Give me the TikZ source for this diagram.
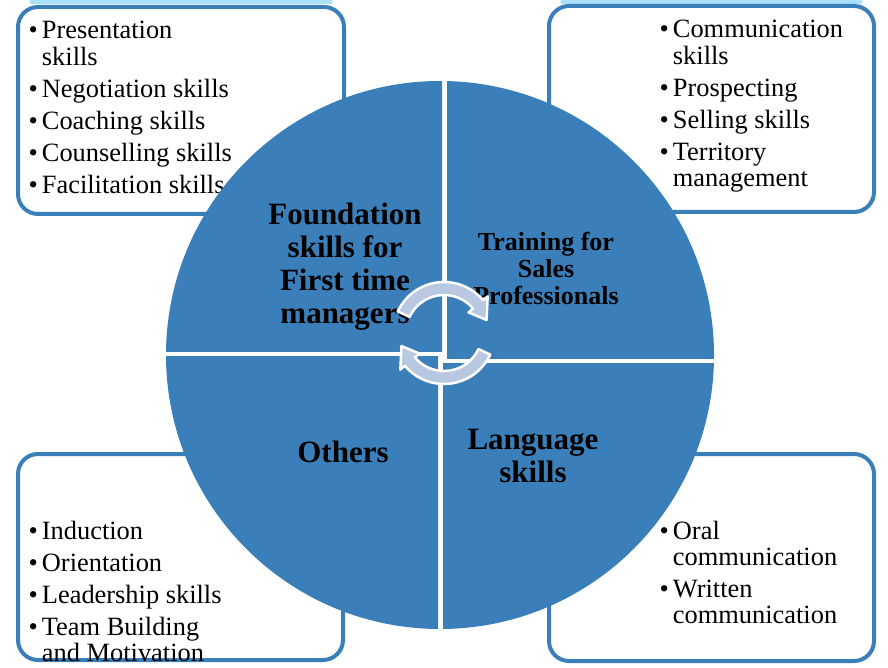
\documentclass[tikz,border=0pt]{standalone}
\usepackage{fontspec}
\setmainfont{Liberation Serif}

\begin{document}
\begin{tikzpicture}[x=1pt,y=1pt]
  \definecolor{quadblue}{RGB}{58,127,185}
  \definecolor{arrowgrey}{RGB}{185,200,225}
  \definecolor{glowcyan}{RGB}{110,205,245}

  \tikzset{
    listbox/.style={draw=quadblue,fill=white,line width=4pt,rounded corners=20pt},
    listtext/.style={anchor=base west,inner sep=0pt,font=\fontsize{26.4}{26}\selectfont},
    quadlabel/.style={align=center,inner sep=0pt,font=\bfseries\fontsize{31}{33}\selectfont},
    cyclearrow/.style={fill=arrowgrey,draw=white,line width=2.5pt,line join=round},
    glowline/.style={glowcyan,line width=5pt,line cap=round,opacity=0.6}
  }

  \path[use as bounding box,fill=white] (0,0) rectangle (888,667);

  % ---------------- Corner boxes ----------------
  \draw[glowline] (32,665) -- (330,665);
  \draw[glowline] (563,665) -- (860,665);

  \draw[listbox] (18,453) rectangle (344,660);
  \draw[listbox] (549,455) rectangle (874,661);
  \draw[listbox] (18,7) rectangle (343,213);
  \draw[listbox] (549,6) rectangle (874,213);

  \node[listtext] (mgrList) at (28.5,628) {\begin{tabular}[t]{@{}l@{\hspace{4pt}}l@{}}
    \textbullet & Presentation\\ & skills\\[6pt]
    \textbullet & Negotiation skills\\[6pt]
    \textbullet & Coaching skills\\[6pt]
    \textbullet & Counselling skills\\[6pt]
    \textbullet & Facilitation skills
  \end{tabular}};

  \node[listtext] (salesList) at (659.5,629) {\begin{tabular}[t]{@{}l@{\hspace{4pt}}l@{}}
    \textbullet & Communication\\ & skills\\[6pt]
    \textbullet & Prospecting\\[6pt]
    \textbullet & Selling skills\\[6pt]
    \textbullet & Territory\\ & management
  \end{tabular}};

  \node[listtext] (otherList) at (28.5,128) {\begin{tabular}[t]{@{}l@{\hspace{4pt}}l@{}}
    \textbullet & Induction\\[6pt]
    \textbullet & Orientation\\[6pt]
    \textbullet & Leadership skills\\[6pt]
    \textbullet & Team Building\\ & and Motivation
  \end{tabular}};

  \node[listtext] (langList) at (659.5,128) {\begin{tabular}[t]{@{}l@{\hspace{4pt}}l@{}}
    \textbullet & Oral\\ & communication\\[6pt]
    \textbullet & Written\\ & communication
  \end{tabular}};

  % ---------------- Quadrants ----------------
  \coordinate (ctr) at (440,312);
  \begin{scope}
    \clip (150,315) rectangle (442,600);
    \fill[quadblue] (ctr) circle[radius=274pt];
  \end{scope}
  \begin{scope}
    \clip (447,308) rectangle (730,600);
    \fill[quadblue] (ctr) circle[radius=274pt];
  \end{scope}
  \begin{scope}
    \clip (150,310) rectangle (438,20);
    \fill[quadblue] (ctr) circle[radius=274pt];
  \end{scope}
  \begin{scope}
    \clip (443,303) rectangle (730,20);
    \fill[quadblue] (ctr) circle[radius=274pt];
  \end{scope}

  \node[quadlabel] (foundLbl) at (345,400) {Foundation\\skills for\\First time\\managers};
  \node[quadlabel,font=\bfseries\fontsize{26}{27}\selectfont] (salesLbl) at (546,399) {Training for\\Sales\\Professionals};
  \node[quadlabel] (othersLbl) at (343,215) {Others};
  \node[quadlabel] (langLbl) at (533,211) {Language\\skills};

  % ---------------- Cycle arrows ----------------
  \coordinate (arr) at (444,334);
  \draw[cyclearrow] ([shift={(155:51pt)}]arr) arc[start angle=155,end angle=40,radius=51pt]
    -- ([shift={(40:57pt)}]arr) -- ([shift={(17:44.5pt)}]arr) -- ([shift={(40:32pt)}]arr)
    -- ([shift={(40:38pt)}]arr) arc[start angle=40,end angle=155,radius=38pt] -- cycle;
  \draw[cyclearrow] ([shift={(-25:51pt)}]arr) arc[start angle=-25,end angle=-140,radius=51pt]
    -- ([shift={(-140:57pt)}]arr) -- ([shift={(-163:44.5pt)}]arr) -- ([shift={(-140:32pt)}]arr)
    -- ([shift={(-140:38pt)}]arr) arc[start angle=-140,end angle=-25,radius=38pt] -- cycle;
\end{tikzpicture}
\end{document}
